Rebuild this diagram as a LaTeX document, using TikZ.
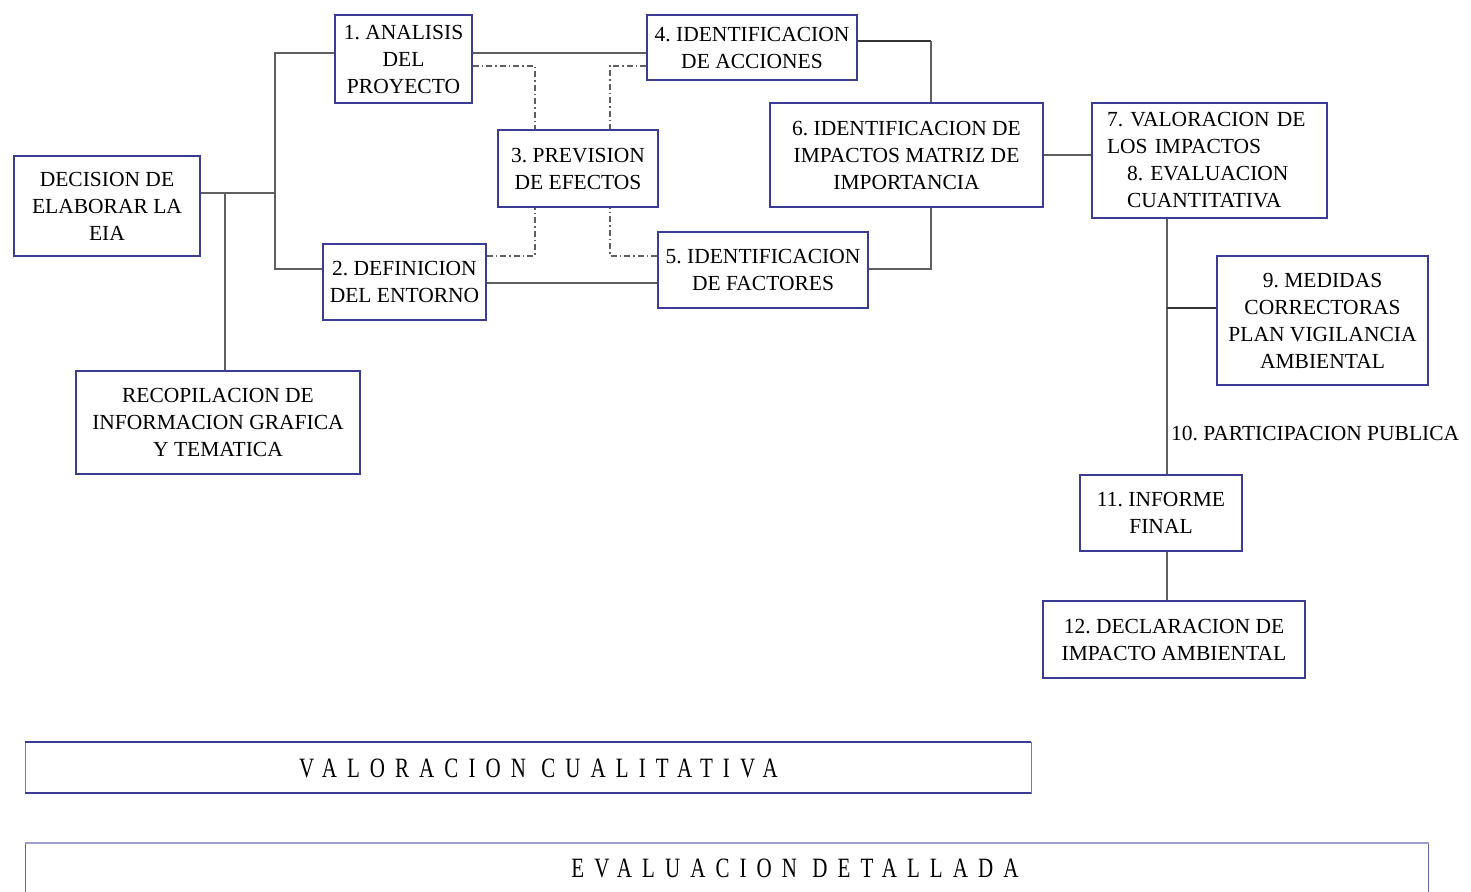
\documentclass[tikz,border=0pt]{standalone}
\usepackage{fontspec}
\setmainfont{Liberation Serif}
\newfontfamily\barfont[LetterSpace=36,FakeStretch=0.75]{Liberation Serif}
\definecolor{boxc}{RGB}{60,60,150}
\definecolor{linec}{RGB}{95,95,95}
\frenchspacing
\begin{document}
\begin{tikzpicture}[x=1pt,y=-1pt,
  box/.style={draw=boxc, line width=1.3pt, fill=white, inner sep=0pt, align=center,
    font=\fontsize{21.5}{27}\selectfont},
  conn/.style={draw=linec, line width=1.4pt},
  dconn/.style={draw=black!80, line width=1.6pt},
  dd/.style={draw=linec, line width=1.2pt, dash pattern=on 6pt off 3pt on 1.5pt off 3pt},
  bartext/.style={font=\barfont\fontsize{28}{30}\selectfont, inner sep=0pt}]
\useasboundingbox (0,0) rectangle (1471,891);

% junction coordinates
\coordinate (j1) at (275,193);
\coordinate (jr) at (225,193);
\coordinate (t1) at (275,53);
\coordinate (t2) at (275,269);
\coordinate (t3) at (575,283);
\coordinate (t4) at (931,41);
\coordinate (t5) at (931,269);
\coordinate (t6) at (1167,300);
\coordinate (t7) at (1167,308);
\coordinate (d1) at (535,66);
\coordinate (d2) at (610,66);
\coordinate (d3) at (535,256);
\coordinate (d4) at (610,256);

% boxes
\node[box, minimum width=186pt, minimum height=100pt] (dec) at (107,206) {DECISION DE\\ELABORAR LA\\EIA};
\node[box, minimum width=137pt, minimum height=88pt] (a1) at (403.5,59) {1. ANALISIS\\DEL\\PROYECTO};
\node[box, minimum width=163pt, minimum height=76pt] (a2) at (404.5,282) {2. DEFINICION\\DEL ENTORNO};
\node[box, minimum width=160pt, minimum height=77pt] (a3) at (578,168.5) {3. PREVISION\\DE EFECTOS};
\node[box, minimum width=210pt, minimum height=65pt] (a4) at (752,47.5) {4. IDENTIFICACION\\DE ACCIONES};
\node[box, minimum width=210pt, minimum height=76pt] (a5) at (763,270) {5. IDENTIFICACION\\DE FACTORES};
\node[box, minimum width=273pt, minimum height=104pt] (a6) at (906.5,155) {6. IDENTIFICACION DE\\IMPACTOS MATRIZ DE\\IMPORTANCIA};
\node[box, minimum width=235pt, minimum height=115pt, text width=205pt, align=left, inner xsep=15pt] (a7) at (1209.5,160.5)
  {7. VALORACION DE\\LOS IMPACTOS\\\hspace*{20pt}8. EVALUACION\\\hspace*{20pt}CUANTITATIVA};
\node[box, minimum width=211pt, minimum height=129pt] (a9) at (1322.5,320.5) {9. MEDIDAS\\CORRECTORAS\\PLAN VIGILANCIA\\AMBIENTAL};
\node[box, minimum width=162pt, minimum height=76pt] (a11) at (1161,513) {11. INFORME\\FINAL};
\node[box, minimum width=262pt, minimum height=77pt] (a12) at (1174,639.5) {12. DECLARACION DE\\IMPACTO AMBIENTAL};
\node[box, minimum width=284pt, minimum height=103pt] (rec) at (218,422.5) {RECOPILACION DE\\INFORMACION GRAFICA\\Y TEMATICA};

% label
\node[anchor=west, inner sep=0pt, font=\fontsize{21.5}{27}\selectfont] (l10) at (1171,433) {10. PARTICIPACION PUBLICA};

% solid connectors
\draw[conn] (dec.east |- j1) -- (j1);
\draw[conn] (a1.west |- t1) -- (t1) -- (t2) -- (a2.west |- t2);
\draw[conn] (jr) -- (rec.north -| jr);
\draw[conn] (a1.east |- t1) -- (a4.west |- t1);
\draw[conn] (a2.east |- t3) -- (a5.west |- t3);
\draw[dconn] (a4.east |- t4) -- (t4);
\draw[conn] (t4) -- (a6.north -| t4);
\draw[conn] (a6.south -| t5) -- (t5) -- (a5.east |- t5);
\draw[conn] (a6.east) -- (a7.west |- a6.east);
\draw[conn] (a7.south -| t6) -- (a11.north -| t6);
\draw[dconn] (t7) -- (a9.west |- t7);
\draw[conn] (a11.south -| t6) -- (a12.north -| t6);

% dash-dot connectors
\draw[dd] (a1.east |- d1) -- (d1) -- (a3.north -| d1);
\draw[dd] (a4.west |- d2) -- (d2) -- (a3.north -| d2);
\draw[dd] (a2.east |- d3) -- (d3) -- (a3.south -| d3);
\draw[dd] (a5.west |- d4) -- (d4) -- (a3.south -| d4);

% bottom bars
\node[draw=boxc!70, line width=0.8pt, minimum width=1006pt, minimum height=51pt, inner sep=0pt] (bar1) at (528,767.5) {};
\draw[boxc, line width=2pt] (bar1.north west) -- (bar1.north east);
\draw[boxc, line width=2pt] (bar1.south west) -- (bar1.south east);
\node[bartext] (bar1t) at (538.5,768) {VALORACION CUALITATIVA};

\begin{scope}
\clip (0,0) rectangle (1471,891);
\node[draw=boxc!80, line width=1pt, minimum width=1403pt, minimum height=60pt, inner sep=0pt, anchor=north west] (bar2) at (25,843) {};
\draw[boxc!50, line width=2pt] (bar2.north west) -- (bar2.north east);
\end{scope}
\node[bartext] (bar2t) at (795,868) {EVALUACION DETALLADA};
\end{tikzpicture}
\end{document}
